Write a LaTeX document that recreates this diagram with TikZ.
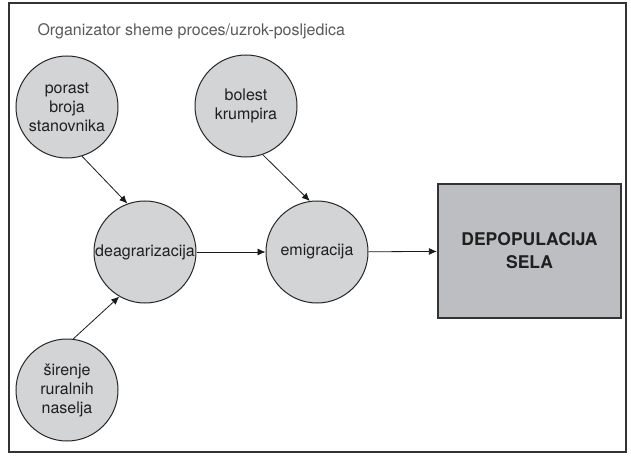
\documentclass[tikz,border=0pt]{standalone}
\usepackage{fontspec}
\setmainfont{TeX Gyre Heros}
\usetikzlibrary{arrows.meta,shapes}

\definecolor{circlegrey}{HTML}{D3D4D6}
\definecolor{boxgrey}{HTML}{BDBEC1}

\begin{document}
\begin{tikzpicture}[x=1pt,y=-1pt,>={Latex[length=8pt,width=7pt]}]
  \tikzstyle{cause}=[circle,draw=black!85,line width=1pt,fill=circlegrey,
                     minimum size=102pt,inner sep=0pt,align=center,
                     text=black!88,font=\fontsize{16}{19}\selectfont]
  \tikzstyle{result}=[rectangle,draw=black!80,line width=2.2pt,fill=boxgrey,
                      minimum width=183pt,minimum height=134pt,align=center,
                      text=black!88,font=\fontsize{17.5}{23}\selectfont\bfseries]
  \tikzstyle{link}=[->,line width=0.8pt,black!90]
  \useasboundingbox (0,0) rectangle (631,457);
  \draw [black!80,line width=1.3pt] (9,3) rectangle (626,452);
  \node [anchor=base west,text=black!65,font=\fontsize{16}{19}\selectfont]
    (title) at (34,36) {Organizator sheme proces/uzrok-posljedica};

  \node [cause] (porast) at (67,107) {porast\\broja\\stanovnika};
  \node [cause] (sirenje) at (67,390) {širenje\\ruralnih\\naselja};
  \node [cause] (bolest) at (246,106) {bolest\\krumpira};
  \node [cause] (deag) at (145,252) {deagrarizacija};
  \node [cause] (emig) at (317,252) {emigracija};
  \node [result] (depop) at (529.5,251) {DEPOPULACIJA\\SELA};

  \draw [link] (porast.-73) -- (deag.110);
  \draw [link] (sirenje.83) -- (deag.240);
  \draw [link] (bolest.-71) -- (emig.98);
  \draw [link] (deag) -- (emig);
  \draw [link] (emig) -- (depop);
\end{tikzpicture}
\end{document}
